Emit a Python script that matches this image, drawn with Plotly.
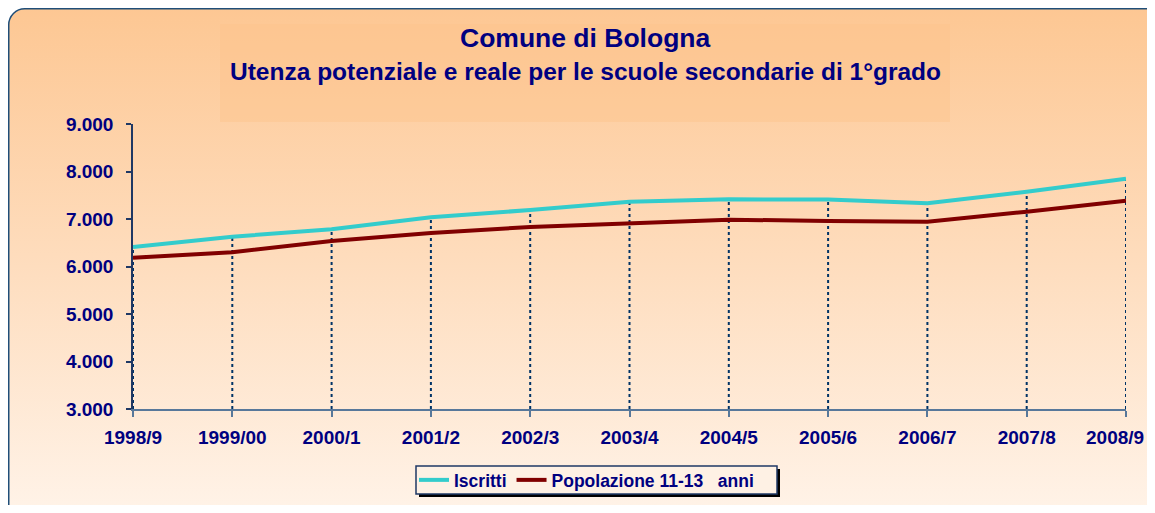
import base64
import plotly.graph_objects as go

categories = ["1998/9", "1999/00", "2000/1", "2001/2", "2002/3", "2003/4",
              "2004/5", "2005/6", "2006/7", "2007/8", "2008/9"]
iscritti = [6410, 6627, 6783, 7035, 7190, 7365, 7414, 7410, 7330, 7575, 7849]
popolazione = [6186, 6300, 6537, 6705, 6832, 6916, 6986, 6958, 6944, 7154, 7386]
y_ticks = [3000, 4000, 5000, 6000, 7000, 8000, 9000]

W, H = 1139, 497
L, R, T, B = 125, 21, 116, 96
pw, ph = W - L - R, H - T - B

NAVY = "#000080"
FONT = "Liberation Sans, Arial, sans-serif"

svg = f'''<svg xmlns="http://www.w3.org/2000/svg" width="{W}" height="{H}" viewBox="0 0 {W} {H}" preserveAspectRatio="none">
<defs><linearGradient id="g" gradientUnits="userSpaceOnUse" x1="0" y1="0" x2="0" y2="{H+20}">
<stop offset="0" stop-color="#FDC793"/>
<stop offset="0.5" stop-color="#FEDDBE"/>
<stop offset="1" stop-color="#FFF4EA"/>
</linearGradient></defs>
<rect x="0" y="0" width="{W}" height="{H}" fill="#FFFFFF"/>
<rect x="0.75" y="0.75" width="{W+40}" height="{H+40}" rx="16" ry="16" fill="url(#g)" stroke="#1F4E79" stroke-width="1.5"/>
<rect x="212" y="16" width="730" height="98" fill="#FDC38C" fill-opacity="0.45"/>
</svg>'''
src = "data:image/svg+xml;base64," + base64.b64encode(svg.encode()).decode()

fig = go.Figure()

# drop lines from the upper series to the x axis
dx, dy = [], []
for c, v in zip(categories, iscritti):
    dx += [c, c, None]
    dy += [y_ticks[0], v, None]
fig.add_trace(go.Scatter(x=dx, y=dy, mode="lines", showlegend=False, hoverinfo="skip",
                         line=dict(color="#003366", width=2, dash="3px,3px")))

fig.add_trace(go.Scatter(x=categories, y=iscritti, mode="lines", name="Iscritti",
                         line=dict(color="#33CCCC", width=4)))
fig.add_trace(go.Scatter(x=categories, y=popolazione, mode="lines",
                         name="Popolazione 11-13\u00a0\u00a0\u00a0anni",
                         line=dict(color="#800000", width=4)))

def px_x(p):
    return (p - L) / pw

def px_y(p):
    return (H - B - p) / ph

tick_font = dict(family=FONT, size=19, color=NAVY, weight="bold")

fig.update_layout(
    width=W, height=H,
    margin=dict(l=L, r=R, t=T, b=B, autoexpand=False),
    paper_bgcolor="white",
    plot_bgcolor="rgba(0,0,0,0)",
    separators=",.",
    font=dict(family=FONT, color=NAVY, size=14),
    showlegend=True,
    legend=dict(orientation="h", x=px_x(406), y=px_y(472), xanchor="left", yanchor="middle",
                bgcolor="rgba(0,0,0,0)", borderwidth=0,
                font=dict(family=FONT, size=17.5, color=NAVY, weight="bold"),
                itemwidth=30, tracegroupgap=0),
    images=[dict(source=src, xref="paper", yref="paper", x=px_x(0), y=px_y(0),
                 sizex=W / pw, sizey=H / ph, xanchor="left", yanchor="top",
                 sizing="stretch", layer="below")],
    shapes=[
        dict(type="rect", xref="paper", yref="paper",
             x0=px_x(411), x1=px_x(772), y0=px_y(461), y1=px_y(489),
             fillcolor="black", line=dict(width=0), layer="above"),
        dict(type="rect", xref="paper", yref="paper",
             x0=px_x(408), x1=px_x(769), y0=px_y(458), y1=px_y(486),
             fillcolor="#FEF1E4", line=dict(color="#1F3864", width=1.5), layer="above"),
    ],
    annotations=[
        dict(text="<b>Comune di Bologna</b>", xref="paper", yref="paper",
             x=px_x(577), y=px_y(30), xanchor="center", yanchor="middle",
             showarrow=False, font=dict(family=FONT, size=26.5, color=NAVY)),
        dict(text="<b>Utenza potenziale e reale per le scuole secondarie di 1°grado</b>",
             xref="paper", yref="paper", x=px_x(577), y=px_y(63),
             xanchor="center", yanchor="middle", showarrow=False,
             font=dict(family=FONT, size=24.5, color=NAVY)),
        # last category label, kept inside the page edge
        dict(text=categories[-1], xref="paper", yref="paper",
             x=px_x(W - 1), y=px_y(429), xanchor="right", yanchor="middle",
             showarrow=False, font=tick_font),
    ],
)

fig.update_xaxes(type="category", range=[0, len(categories) - 1], showgrid=False,
                 tickvals=categories, ticktext=categories[:-1] + [""],
                 showline=True, linecolor="#58789A", linewidth=2,
                 ticks="outside", ticklen=6, tickcolor="#58789A", tickwidth=1.5,
                 ticklabelstandoff=4, automargin=False,
                 tickfont=tick_font, zeroline=False)
fig.update_yaxes(range=[y_ticks[0], y_ticks[-1]], tickvals=y_ticks, tickformat=",d",
                 showgrid=False, showline=True, linecolor="#1F3864", linewidth=1.5,
                 ticks="outside", ticklen=5, tickcolor="#1F3864", tickwidth=1.5,
                 ticklabelstandoff=9, automargin=False,
                 tickfont=tick_font, zeroline=False)

fig.write_html("out.html")
